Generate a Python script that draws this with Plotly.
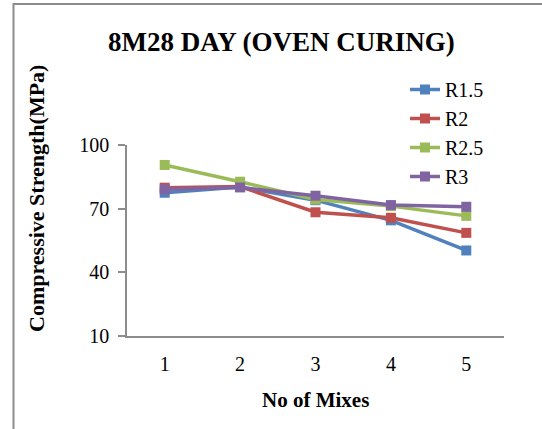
import plotly.graph_objects as go

mixes = [1, 2, 3, 4, 5]
r15 = [77.5, 80.2, 74.0, 64.5, 50.3]
r2 = [79.9, 80.4, 68.3, 65.7, 58.6]
r25 = [90.6, 82.7, 74.3, 71.2, 66.6]
r3 = [79.1, 80.0, 76.1, 71.7, 70.9]
series_names = ["R1.5", "R2", "R2.5", "R3"]
series_vals = [r15, r2, r25, r3]
colors = ["#4F81BD", "#C0504D", "#9BBB59", "#8064A2"]
y_ticks = [10, 40, 70, 100]

W, H = 542, 429
L, R, T, B = 127, 38, 145, 93
pw, ph = W - L - R, H - T - B

def px(x):
    return (x - L) / pw

def py(y):
    return (H - B - y) / ph

FONT = "Liberation Serif"

fig = go.Figure()
for i, (name, vals, c) in enumerate(zip(series_names, series_vals, colors)):
    fig.add_trace(go.Scatter(
        x=mixes, y=vals, name=name, mode="lines+markers",
        line=dict(color=c, width=3.5),
        marker=dict(symbol="square", size=10, color=c),
        legendgroup=name,
    ))

fig.update_layout(
    width=W, height=H,
    margin=dict(l=L, r=R, t=T, b=B, autoexpand=False),
    paper_bgcolor="white", plot_bgcolor="white",
    font=dict(family=FONT, color="black", size=20),
    showlegend=True,
    legend=dict(
        x=px(405), y=py(70), xanchor="left", yanchor="top",
        font=dict(size=20, family=FONT),
        tracegroupgap=0, itemwidth=30,
        bgcolor="rgba(0,0,0,0)",
    ),
    xaxis=dict(
        range=[0.5, 5.5], tickvals=mixes, ticktext=[str(m) for m in mixes],
        showgrid=False, zeroline=False, showline=True,
        linecolor="#8C8C8C", linewidth=1.5, ticks="",
        ticklabelstandoff=9,
        tickfont=dict(size=20, family=FONT),
    ),
    yaxis=dict(
        range=[10, 100], tickvals=y_ticks,
        showgrid=False, zeroline=False, showline=True,
        linecolor="#8C8C8C", linewidth=1.5, ticks="outside",
        ticklen=7, tickcolor="#8C8C8C", tickwidth=1.5,
        ticklabelstandoff=5,
        tickfont=dict(size=20, family=FONT),
    ),
)

fig.add_annotation(
    text="<b>8M28 DAY (OVEN CURING)</b>", xref="paper", yref="paper",
    x=px(281), y=py(42), showarrow=False, font=dict(size=27, family=FONT),
    xanchor="center", yanchor="middle",
)
fig.add_annotation(
    text="<b>Compressive Strength(MPa)</b>", xref="paper", yref="paper",
    x=px(36), y=py(199), showarrow=False, textangle=-90,
    font=dict(size=22, family=FONT), xanchor="center", yanchor="middle",
)
fig.add_annotation(
    text="<b>No of Mixes</b>", xref="paper", yref="paper",
    x=px(315), y=py(400), showarrow=False,
    font=dict(size=21, family=FONT), xanchor="center", yanchor="middle",
)

fig.add_shape(
    type="rect", xref="paper", yref="paper",
    x0=px(13.5), x1=px(W + 20), y0=py(H + 20), y1=py(4),
    line=dict(color="#8C8C8C", width=2), fillcolor="rgba(0,0,0,0)",
    layer="below",
)

fig.write_html("out.html")
